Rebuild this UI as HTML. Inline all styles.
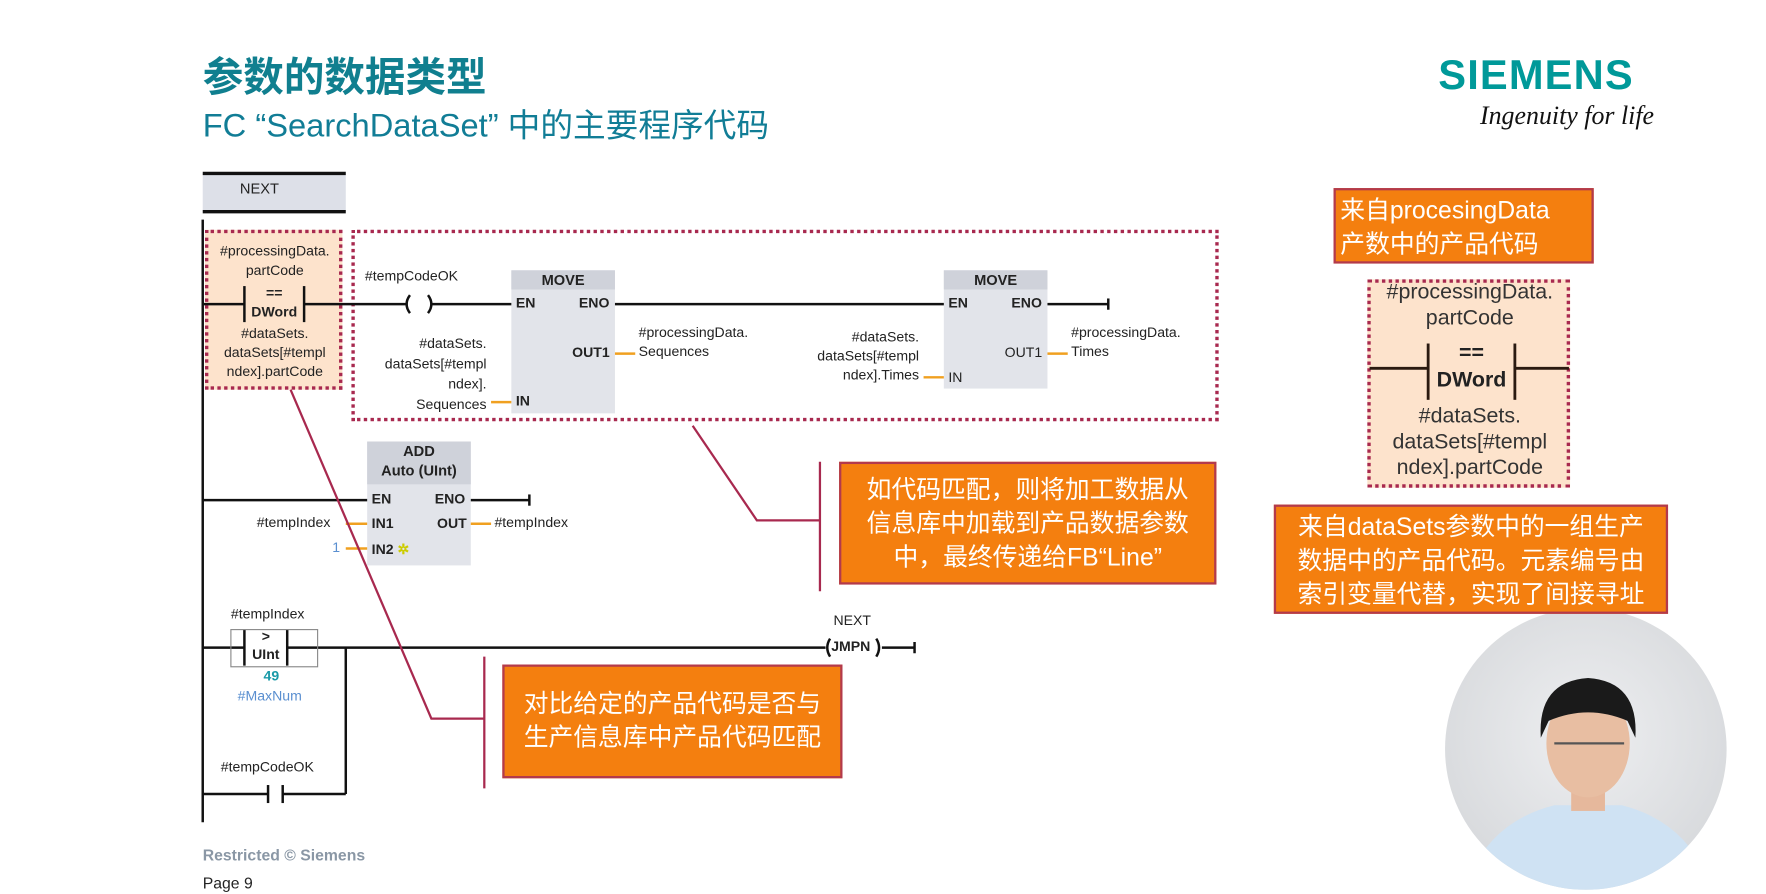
<!DOCTYPE html>
<html><head><meta charset="utf-8"><style>
html,body{margin:0;padding:0;background:#fff;width:1766px;height:894px;overflow:hidden}
#w{position:absolute;left:0;top:0;width:1568px;height:794px;transform:scale(1.1263);transform-origin:0 0;font-family:"Liberation Sans","Noto Sans CJK SC",sans-serif}
.a{position:absolute;white-space:nowrap}
.t{font-size:12.5px;color:#222}
.or{position:absolute;background:#f47f0f;border:2px solid #b33a4c;color:#fff;font-size:22px;line-height:30px;text-align:center;box-sizing:border-box}
.db{position:absolute;border:3px dotted #a8294f;box-sizing:border-box}
.blk{position:absolute;background:#e2e4ea}
.hd{position:absolute;left:0;right:0;top:0;background:#cfd2da;text-align:center;font-size:13px;font-weight:bold;color:#222;height:17px;line-height:17px}
</style></head><body><div id="w">
<div class="a" style="left:180px;top:40px;font-size:36px;font-weight:bold;color:#107f8f">参数的数据类型</div>
<div class="a" style="left:180px;top:88px;font-size:29px;color:#117d96">FC “SearchDataSet” 中的主要程序代码</div>
<div class="a" style="left:1277px;top:46px;font-size:37px;font-weight:bold;color:#099;letter-spacing:1px">SIEMENS</div>
<div class="a" style="left:1314px;top:90px;font-size:23px;font-style:italic;color:#111;font-family:'Liberation Serif',serif">Ingenuity for life</div>

<div class="db" style="left:182px;top:204px;width:122px;height:142px;background:#fde3cc"></div>
<div class="db" style="left:312px;top:204px;width:770px;height:170px"></div>
<div class="blk" style="left:454px;top:240px;width:92px;height:127px"><div class="hd">MOVE</div></div>
<div class="blk" style="left:838px;top:240px;width:92px;height:105px"><div class="hd">MOVE</div></div>
<div class="blk" style="left:326px;top:392px;width:92px;height:110px"><div class="hd" style="height:38px;line-height:17px">ADD<br>Auto (UInt)</div></div>

<svg class="a" style="left:0;top:0" width="1568" height="794">
<rect x="180" y="154" width="127" height="34" fill="#dde0e8"/>
<line x1="180" y1="154" x2="307" y2="154" stroke="#111" stroke-width="3"/>
<line x1="180" y1="188" x2="307" y2="188" stroke="#111" stroke-width="3"/>
<g stroke="#111" stroke-width="2.2" fill="none">
<line x1="180" y1="195" x2="180" y2="730"/>
<line x1="180" y1="270" x2="217" y2="270"/><line x1="217" y1="254" x2="217" y2="286"/><line x1="270" y1="254" x2="270" y2="286"/>
<line x1="270" y1="270" x2="362" y2="270"/>
<path d="M364 262 Q358 270 364 278"/><path d="M380 262 Q386 270 380 278"/>
<line x1="383" y1="270" x2="454" y2="270"/>
<line x1="546" y1="270" x2="838" y2="270"/>
<line x1="930" y1="270" x2="984" y2="270"/><line x1="984" y1="265" x2="984" y2="275"/>
<line x1="180" y1="444" x2="326" y2="444"/>
<line x1="418" y1="444" x2="470" y2="444"/><line x1="470" y1="439" x2="470" y2="449"/>
<line x1="180" y1="575" x2="217" y2="575"/><line x1="217" y1="559" x2="217" y2="591"/><line x1="255" y1="559" x2="255" y2="591"/>
<line x1="255" y1="575" x2="733" y2="575"/>
<path d="M737 567 Q732 575 737 583"/><path d="M778 567 Q783 575 778 583"/>
<line x1="783" y1="575" x2="812" y2="575"/><line x1="812" y1="570" x2="812" y2="580"/>
<line x1="307" y1="575" x2="307" y2="705"/>
<line x1="180" y1="705" x2="238" y2="705"/><line x1="238" y1="697" x2="238" y2="713"/><line x1="251" y1="697" x2="251" y2="713"/><line x1="251" y1="705" x2="307" y2="705"/>
</g>
<rect x="205" y="559" width="77" height="33" fill="none" stroke="#888" stroke-width="1"/>
<g stroke="#f0a020" stroke-width="2.2">
<line x1="436" y1="357" x2="454" y2="357"/><line x1="546" y1="314" x2="564" y2="314"/>
<line x1="820" y1="335" x2="838" y2="335"/><line x1="930" y1="314" x2="948" y2="314"/>
<line x1="307" y1="465" x2="326" y2="465"/><line x1="307" y1="487" x2="326" y2="487"/><line x1="418" y1="465" x2="436" y2="465"/>
</g>
<g stroke="#a8294f" stroke-width="2" fill="none">
<polyline points="258,346 383,638 430,638"/><line x1="430" y1="583" x2="430" y2="700"/>
<polyline points="615,378 672,462 728,462"/><line x1="728" y1="410" x2="728" y2="525"/>
</g>
<defs><radialGradient id="g" cx="50%" cy="45%" r="55%"><stop offset="0" stop-color="#eeeff1"/><stop offset="1" stop-color="#d8dadd"/></radialGradient>
<clipPath id="c"><circle cx="1408" cy="665" r="125"/></clipPath></defs>
<circle cx="1408" cy="665" r="125" fill="url(#g)"/>
<g clip-path="url(#c)">
<path d="M1300 790 Q1320 730 1380 715 L1440 715 Q1500 730 1520 790Z" fill="#cfe2f3"/>
<rect x="1395" y="690" width="30" height="30" fill="#e6b89c"/>
<ellipse cx="1410" cy="660" rx="37" ry="48" fill="#e8bea2"/>
<path d="M1368 655 Q1365 605 1410 602 Q1455 605 1452 655 L1445 640 Q1410 625 1375 640Z" fill="#1a1a1a"/>
<line x1="1380" y1="660" x2="1442" y2="660" stroke="#555" stroke-width="2"/>
</g>
</svg>

<div class="a" style="left:213px;top:160px;font-size:13px;color:#222">NEXT</div>
<div class="a t" style="left:184px;top:215px;width:120px;text-align:center;line-height:17px">#processingData.<br>partCode</div>
<div class="a t" style="left:217px;top:252px;width:53px;text-align:center;line-height:17px;font-weight:bold">==<br>DWord</div>
<div class="a t" style="left:184px;top:288px;width:120px;text-align:center;line-height:17px">#dataSets.<br>dataSets[#templ<br>ndex].partCode</div>
<div class="a t" style="left:324px;top:238px">#tempCodeOK</div>
<div class="a t" style="left:320px;top:296px;width:112px;text-align:right;line-height:18px">#dataSets.<br>dataSets[#templ<br>ndex].<br>Sequences</div>
<div class="a t" style="left:458px;top:262px;font-weight:bold">EN</div><div class="a t" style="left:514px;top:262px;font-weight:bold">ENO</div>
<div class="a t" style="left:508px;top:306px;font-weight:bold">OUT1</div><div class="a t" style="left:458px;top:349px;font-weight:bold">IN</div>
<div class="a t" style="left:567px;top:287px;line-height:17px">#processingData.<br>Sequences</div>
<div class="a t" style="left:700px;top:291px;width:116px;text-align:right;line-height:17px">#dataSets.<br>dataSets[#templ<br>ndex].Times</div>
<div class="a t" style="left:842px;top:262px;font-weight:bold">EN</div><div class="a t" style="left:898px;top:262px;font-weight:bold">ENO</div>
<div class="a t" style="left:892px;top:306px">OUT1</div><div class="a t" style="left:842px;top:328px">IN</div>
<div class="a t" style="left:951px;top:287px;line-height:17px">#processingData.<br>Times</div>
<div class="a t" style="left:330px;top:436px;font-weight:bold">EN</div><div class="a t" style="left:386px;top:436px;font-weight:bold">ENO</div>
<div class="a t" style="left:330px;top:458px;font-weight:bold">IN1</div><div class="a t" style="left:388px;top:458px;font-weight:bold">OUT</div>
<div class="a t" style="left:330px;top:480px;font-weight:bold">IN2 <span style="color:#cc0">✲</span></div>
<div class="a t" style="left:228px;top:457px">#tempIndex</div>
<div class="a t" style="left:295px;top:479px;color:#5a8fd0">1</div>
<div class="a t" style="left:439px;top:457px">#tempIndex</div>
<div class="a t" style="left:205px;top:538px">#tempIndex</div>
<div class="a t" style="left:217px;top:557px;width:38px;text-align:center;line-height:16px;font-weight:bold">&gt;<br>UInt</div>
<div class="a t" style="left:234px;top:593px;color:#1a9aa8;font-weight:bold">49</div>
<div class="a t" style="left:211px;top:611px;color:#5a8fd0">#MaxNum</div>
<div class="a t" style="left:196px;top:674px">#tempCodeOK</div>
<div class="a t" style="left:740px;top:544px">NEXT</div>
<div class="a t" style="left:738px;top:567px;font-weight:bold">JMPN</div>

<div class="or" style="left:446px;top:590px;width:302px;height:101px;padding-top:18px">对比给定的产品代码是否与<br>生产信息库中产品代码匹配</div>
<div class="or" style="left:745px;top:410px;width:335px;height:109px;padding-top:8px">如代码匹配，则将加工数据从<br>信息库中加载到产品数据参数<br>中，最终传递给FB“Line”</div>
<div class="or" style="left:1184px;top:167px;width:231px;height:67px;text-align:left;padding:3px 0 0 4px">来自procesingData<br>产数中的产品代码</div>
<div class="db" style="left:1214px;top:248px;width:180px;height:185px;background:#fde3cc"></div>
<svg class="a" style="left:0;top:0" width="1568" height="794"><g stroke="#2a1a10" stroke-width="2.5">
<line x1="1216" y1="327" x2="1268" y2="327"/><line x1="1268" y1="305" x2="1268" y2="355"/><line x1="1345" y1="305" x2="1345" y2="355"/><line x1="1345" y1="327" x2="1393" y2="327"/></g></svg>
<div class="a" style="left:1216px;top:248px;width:178px;text-align:center;font-size:19px;line-height:23px;color:#333">#processingData.<br>partCode</div>
<div class="a" style="left:1268px;top:302px;width:77px;text-align:center;font-size:19px;line-height:24px;color:#222;font-weight:bold">==<br>DWord</div>
<div class="a" style="left:1216px;top:358px;width:178px;text-align:center;font-size:19px;line-height:23px;color:#333">#dataSets.<br>dataSets[#templ<br>ndex].partCode</div>
<div class="or" style="left:1131px;top:448px;width:350px;height:97px;padding-top:3px">来自dataSets参数中的一组生产<br>数据中的产品代码。元素编号由<br>索引变量代替，实现了间接寻址</div>

<div class="a" style="left:180px;top:751px;font-size:14px;font-weight:bold;color:#8a97a5">Restricted © Siemens</div>
<div class="a" style="left:180px;top:776px;font-size:14px;color:#222">Page 9</div>
</div></body></html>
